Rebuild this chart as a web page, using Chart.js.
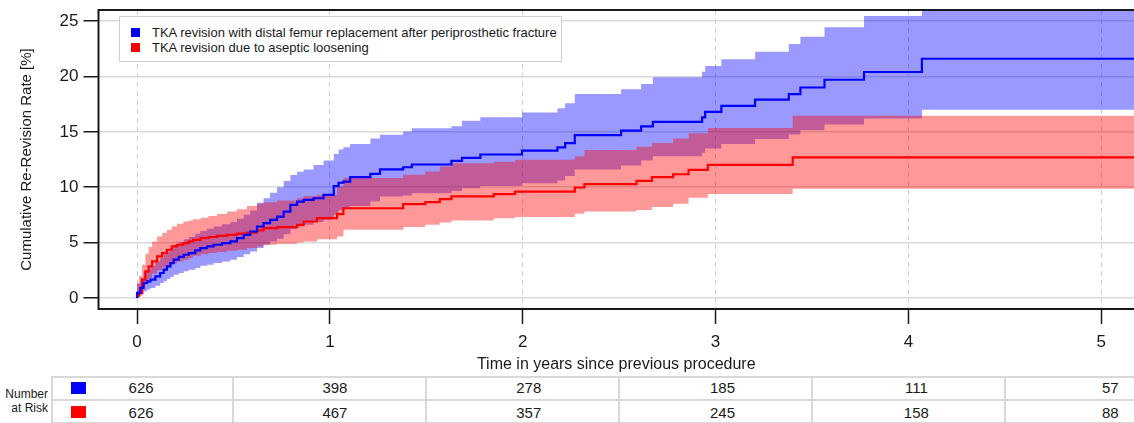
<!DOCTYPE html>
<html>
<head>
<meta charset="utf-8">
<script src="https://cdn.jsdelivr.net/npm/chart.js@4.4.1/dist/chart.umd.min.js"></script>
<style>
  body { margin: 0; background: #fff; font-family: 'Liberation Sans', Arial, sans-serif; color: #1a1a1a; }
  #wrap { position: relative; width: 1134px; height: 423px; overflow: hidden; }
  #box { position: absolute; left: 0; top: 0; width: 1134px; height: 374px; }
  #legend { position: absolute; left: 119px; top: 16px; width: 443px; height: 46px; box-sizing: border-box;
            border: 1.5px solid #d0d0d0; background: #fff; }
  .lg { position: absolute; left: 0; height: 16px; line-height: 16px; font-size: 13px; white-space: nowrap; }
  .lg span.sw { position: absolute; left: 11px; top: 3px; width: 9px; height: 9px; }
  .lg span.tx { position: absolute; left: 32px; top: 0; }
  #risk { position: absolute; left: 0; top: 376px; width: 1134px; height: 47px; }
  .hl { position: absolute; height: 2px; background: #d9d9d9; }
  .vl { position: absolute; width: 2px; background: #d9d9d9; }
  .num { position: absolute; width: 60px; margin-left: -30px; text-align: center; font-size: 15px; line-height: 20px; }
  .sq { position: absolute; width: 15px; height: 12px; }
  #rlab { position: absolute; left: 0; width: 48px; text-align: right; font-size: 12px; line-height: 14px; top: 11px; }
</style>
</head>
<body>
<div id="wrap">
  <div id="box"><canvas id="kmChart"></canvas></div>
  <div id="legend"></div>
  <div id="risk"></div>
</div>
<script>
const seriesNames = ['TKA revision with distal femur replacement after periprosthetic fracture',
                     'TKA revision due to aseptic loosening'];
const xTicks = [0, 1, 2, 3, 4, 5];
const yTicks = [0, 5, 10, 15, 20, 25];

// number at risk
const riskTimes = [0, 1, 2, 3, 4, 5];
const blueAtRisk = [626, 398, 278, 185, 111, 57];
const redAtRisk = [626, 467, 357, 245, 158, 88];

// distal femur replacement: step times (years), estimate and CI (%)
const blueTime = [0, 0.017, 0.034, 0.052, 0.069, 0.095, 0.12, 0.138, 0.155, 0.173, 0.19, 0.216, 0.242, 0.268,
  0.302, 0.328, 0.363, 0.397, 0.44, 0.484, 0.518, 0.553, 0.587, 0.622, 0.656, 0.69, 0.726, 0.76, 0.795,
  0.83, 0.864, 0.915, 0.967, 1.02, 1.045, 1.07, 1.105, 1.21, 1.26, 1.38, 1.425, 1.63, 1.685, 1.78, 1.996,
  2.18, 2.22, 2.27, 2.51, 2.614, 2.675, 2.93, 2.946, 3.03, 3.205, 3.38, 3.44, 3.565, 3.77, 4.07, 4.835, 5.2];
const blueEst = [0, 0.45, 0.9, 1.35, 1.5, 1.65, 1.95, 2.25, 2.55, 2.85, 3.15, 3.45, 3.7, 3.9,
  4.05, 4.3, 4.5, 4.65, 4.8, 4.95, 5.1, 5.4, 5.7, 6.0, 6.45, 6.75, 7.05, 7.35, 7.8,
  8.4, 8.7, 8.85, 9.0, 9.3, 10.1, 10.4, 10.5, 10.9, 11.2, 11.6, 11.8, 12.05, 12.38, 12.65, 12.95,
  13.3, 13.6, 13.98, 14.7, 15.1, 15.5, 15.9, 16.3, 16.8, 17.35, 17.9, 18.4, 19.0, 19.7, 20.4, 21.6, 21.6];
const blueLow = [0, 0.1, 0.3, 0.6, 0.75, 0.9, 1.1, 1.35, 1.5, 1.7, 1.9, 2.1, 2.25, 2.4,
  2.55, 2.7, 2.9, 3.0, 3.15, 3.3, 3.45, 3.7, 3.95, 4.2, 4.5, 4.8, 5.1, 5.35, 5.75,
  6.2, 6.45, 6.6, 6.85, 7.05, 7.5, 7.95, 8.0, 8.3, 8.7, 9.15, 9.25, 9.45, 9.65, 9.9, 10.1,
  10.35, 10.6, 11.0, 11.6, 11.95, 12.4, 12.8, 13.1, 13.5, 13.9, 14.35, 14.75, 15.15, 15.65, 16.2, 17.0, 17.0];
const blueHigh = [0, 1.3, 1.8, 2.3, 2.6, 2.9, 3.3, 3.6, 3.9, 4.2, 4.5, 4.8, 5.05, 5.3,
  5.5, 5.8, 6.05, 6.25, 6.45, 6.65, 6.85, 7.15, 7.5, 7.9, 8.6, 9.0, 9.5, 10.0, 10.55,
  11.1, 11.4, 11.6, 12.0, 12.4, 13.0, 13.4, 13.6, 13.9, 14.4, 14.73, 15.02, 15.33, 15.5, 16.0, 16.32,
  16.74, 17.13, 17.58, 18.42, 18.84, 19.32, 19.93, 20.43, 20.95, 21.55, 22.24, 22.93, 23.59, 24.44, 25.46, 27.0, 27.0];

// aseptic loosening
const redTime = [0, 0.01, 0.026, 0.043, 0.06, 0.078, 0.104, 0.13, 0.155, 0.18, 0.207, 0.24, 0.268, 0.29,
  0.33, 0.37, 0.415, 0.467, 0.518, 0.57, 0.622, 0.656, 0.726, 0.83, 0.864, 0.933, 1.037, 1.07, 1.38,
  1.495, 1.57, 1.63, 1.85, 1.96, 2.27, 2.32, 2.59, 2.67, 2.78, 2.86, 2.96, 3.4, 4.45, 5.2];
const redEst = [0, 0.2, 0.45, 1.65, 2.4, 2.85, 3.3, 3.75, 4.05, 4.35, 4.65, 4.8, 4.95, 5.1,
  5.25, 5.4, 5.5, 5.6, 5.7, 5.8, 5.9, 6.1, 6.3, 6.4, 6.6, 6.9, 7.2, 7.57, 8.1,
  8.47, 8.65, 8.93, 9.17, 9.38, 9.6, 9.97, 10.27, 10.57, 10.9, 11.17, 11.57, 12.02, 12.7, 12.7];
const redLow = [0, 0, 0.2, 0.9, 1.4, 1.8, 2.2, 2.5, 2.76, 2.95, 3.1, 3.3, 3.45, 3.6,
  3.8, 3.95, 4.05, 4.15, 4.25, 4.35, 4.5, 4.65, 4.8, 4.9, 5.0, 5.1, 5.3, 5.55, 6.15,
  6.4, 6.6, 6.8, 7.0, 7.2, 7.3, 7.6, 7.8, 7.95, 8.2, 8.5, 9.05, 9.38, 9.86, 9.86];
const redHigh = [0, 1.3, 2.0, 3.0, 4.0, 4.6, 5.1, 5.55, 5.86, 6.16, 6.46, 6.7, 6.9, 7.0,
  7.1, 7.25, 7.4, 7.57, 7.8, 8.0, 8.3, 8.5, 8.65, 8.8, 9.0, 9.2, 9.3, 10.05, 10.82,
  11.12, 11.42, 11.87, 12.17, 12.3, 12.47, 12.8, 13.35, 13.65, 14.0, 14.4, 14.88, 15.35, 16.45, 16.45];

const blueColor = '#0000ff';
const redColor = '#ff0000';

function pts(times, vals) {
    return times.map((t, i) => ({ x: t, y: vals[i] }));
}

function bandSet(label, times, vals, fill, color, order) {
    return {
        label: label,
        data: pts(times, vals),
        stepped: 'after',
        pointRadius: 0,
        borderWidth: 0,
        borderColor: 'rgba(0,0,0,0)',
        backgroundColor: color,
        fill: fill,
        order: order
    };
}

// frame round the plot area (the right side runs off the page)
const frame = {
    id: 'frame',
    afterDraw(chart) {
        const { ctx, chartArea: a } = chart;
        ctx.save();
        ctx.strokeStyle = '#1a1a1a';
        ctx.lineWidth = 2;
        ctx.strokeRect(a.left, a.top, a.right - a.left + 10, a.bottom - a.top);
        ctx.restore();
    }
};

const tickFont = { family: "'Liberation Sans', Arial, sans-serif", size: 17 };

const chart = new Chart(document.getElementById('kmChart'), {
    type: 'line',
    data: {
        datasets: [
            { label: seriesNames[0], data: pts(blueTime, blueEst), stepped: 'after', borderColor: blueColor,
              borderWidth: 2.2, pointRadius: 0, fill: false, order: 0 },
            { label: seriesNames[1], data: pts(redTime, redEst), stepped: 'after', borderColor: redColor,
              borderWidth: 2.2, pointRadius: 0, fill: false, order: 0 },
            bandSet('blue upper', blueTime, blueHigh, '+1', 'rgba(0,0,255,0.4)', 3),
            bandSet('blue lower', blueTime, blueLow, false, 'rgba(0,0,255,0.4)', 3),
            bandSet('red upper', redTime, redHigh, '+1', 'rgba(255,0,0,0.4)', 2),
            bandSet('red lower', redTime, redLow, false, 'rgba(255,0,0,0.4)', 2)
        ]
    },
    options: {
        responsive: true,
        maintainAspectRatio: false,
        animation: false,
        layout: { padding: { top: 10, right: 0, bottom: 0, left: 0 } },
        plugins: { legend: { display: false }, tooltip: { enabled: false } },
        scales: {
            x: {
                type: 'linear',
                min: -0.2,
                max: 5.17,
                afterBuildTicks: s => { s.ticks = xTicks.map(v => ({ value: v })); },
                afterFit: s => { s.height = 65; s.paddingLeft = 0; s.paddingRight = 0; },
                grid: { color: '#cfcfcf', lineWidth: 1, tickLength: 15, tickColor: '#1a1a1a', tickWidth: 1.5 },
                border: { display: false, dash: [5, 4] },
                ticks: { font: tickFont, color: '#1a1a1a', padding: 8, maxRotation: 0 },
                title: { display: true, text: 'Time in years since previous procedure', color: '#1a1a1a',
                         font: { family: "'Liberation Sans', Arial, sans-serif", size: 16 }, padding: 0 }
            },
            y: {
                min: -1,
                max: 26,
                afterBuildTicks: s => { s.ticks = yTicks.map(v => ({ value: v })); },
                afterFit: s => { s.width = 98.5; s.paddingTop = 0; s.paddingBottom = 0; },
                grid: { color: '#d9d9d9', lineWidth: 1.5, tickLength: 15, tickColor: '#1a1a1a', tickWidth: 1.5 },
                border: { display: false },
                ticks: { font: tickFont, color: '#1a1a1a', padding: 5 },
                title: { display: true, text: 'Cumulative Re-Revision Rate [%]', color: '#1a1a1a',
                         font: { family: "'Liberation Sans', Arial, sans-serif", size: 15 },
                         padding: { top: 18, bottom: 0 } }
            }
        }
    },
    plugins: [frame]
});

// legend box inside the plot
const legend = document.getElementById('legend');
[blueColor, redColor].forEach((c, i) => {
    const row = document.createElement('div');
    row.className = 'lg';
    row.style.top = (8 + i * 15) + 'px';
    row.innerHTML = '<span class="sw" style="background:' + c + '"></span><span class="tx">' + seriesNames[i] + '</span>';
    legend.appendChild(row);
});

// number at risk table, columns follow the x scale
const risk = document.getElementById('risk');
const xs = chart.scales.x;
function add(cls, css, html) {
    const d = document.createElement('div');
    d.className = cls;
    Object.assign(d.style, css);
    if (html !== undefined) d.innerHTML = html;
    risk.appendChild(d);
}
[0, 23, 46].forEach(y => add('hl', { left: '52px', width: '1082px', top: y + 'px' }));
const cuts = [52].concat(riskTimes.slice(0, -1).map(t => xs.getPixelForValue(t + 0.5)));
cuts.forEach(x => add('vl', { left: (x - 1) + 'px', top: '0px', height: '47px' }));
const lab = document.createElement('div');
lab.id = 'rlab';
lab.innerHTML = 'Number<br>at Risk';
risk.appendChild(lab);
[blueColor, redColor].forEach((c, i) => add('sq', { left: '71px', top: (6 + i * 24) + 'px', background: c }));
[blueAtRisk, redAtRisk].forEach((row, i) => {
    row.forEach((n, j) => {
        const x = xs.getPixelForValue(riskTimes[j]) + 4 + riskTimes[j];
        add('num', { left: x + 'px', top: (2 + i * 24.5) + 'px' }, String(n));
    });
});
</script>
</body>
</html>
